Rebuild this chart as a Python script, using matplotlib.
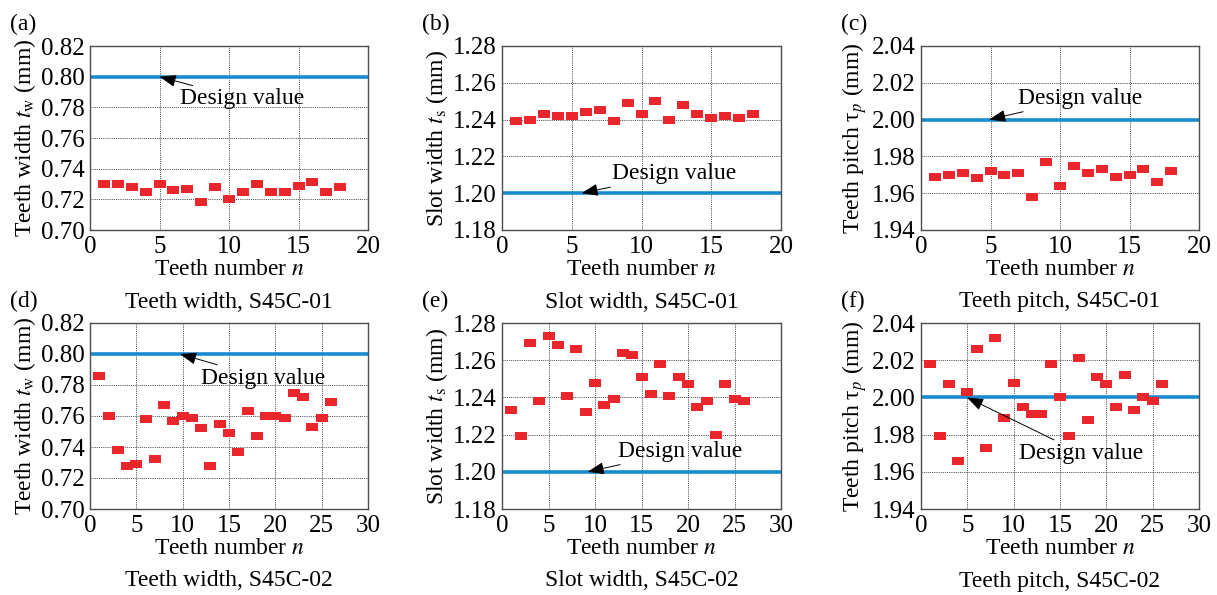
import numpy as np
import matplotlib
matplotlib.use("Agg")
import matplotlib.pyplot as plt
from matplotlib.path import Path

plt.rcParams['font.family'] = ['Liberation Serif', 'DejaVu Serif']
plt.rcParams['mathtext.fontset'] = 'stix'

# Measured data, specimen S45C-01 (18 teeth)
n_01 = np.arange(1, 19)
tw_01 = [0.730, 0.730, 0.728, 0.725, 0.730, 0.726, 0.727, 0.718, 0.728,
         0.720, 0.725, 0.730, 0.725, 0.725, 0.729, 0.731, 0.725, 0.728]
ts_01 = [1.239, 1.240, 1.243, 1.242, 1.242, 1.244, 1.245, 1.239, 1.249,
         1.243, 1.250, 1.240, 1.248, 1.243, 1.241, 1.242, 1.241, 1.243]
tp_01 = [1.969, 1.970, 1.971, 1.968, 1.972, 1.970, 1.971, 1.958, 1.977,
         1.964, 1.975, 1.971, 1.973, 1.969, 1.970, 1.973, 1.966, 1.972]

# Measured data, specimen S45C-02 (26 teeth)
n_02 = np.arange(1, 27)
tw_02 = [0.786, 0.760, 0.738, 0.728, 0.729, 0.758, 0.732, 0.767, 0.757,
         0.760, 0.759, 0.752, 0.728, 0.755, 0.749, 0.737, 0.763, 0.747,
         0.760, 0.760, 0.759, 0.775, 0.772, 0.753, 0.759, 0.769]
ts_02 = [1.233, 1.219, 1.269, 1.238, 1.273, 1.268, 1.241, 1.266, 1.232,
         1.248, 1.236, 1.239, 1.264, 1.263, 1.251, 1.242, 1.258, 1.241,
         1.251, 1.247, 1.235, 1.238, 1.220, 1.247, 1.239, 1.238]
tp_02 = [2.018, 1.979, 2.007, 1.966, 2.003, 2.026, 1.973, 2.032, 1.989,
         2.008, 1.995, 1.991, 1.991, 2.018, 2.000, 1.979, 2.021, 1.988,
         2.011, 2.007, 1.995, 2.012, 1.993, 2.000, 1.998, 2.007]

design_tw = 0.80
design_ts = 1.20
design_tp = 2.00

ylab_tw = r'Teeth width $t_{\rm w}$ (mm)'
ylab_ts = r'Slot width $t_{\rm s}$ (mm)'
ylab_tp = r'Teeth pitch τ$_{p}$ (mm)'

W, H = 1217, 595
fig = plt.figure(figsize=(W / 100, H / 100), dpi=100)

# flat rectangle marker
rect = Path([(-1, -0.68), (1, -0.68), (1, 0.68), (-1, 0.68), (-1, -0.68)],
            [Path.MOVETO, Path.LINETO, Path.LINETO, Path.LINETO, Path.CLOSEPOLY])

RED = '#e8262c'
BLUE = '#1a8ad0'
FS_TICK = 18
FS = 17


def px_axes(x0, y0, x1, y1):
    return fig.add_axes([x0 / W, 1 - y1 / H, (x1 - x0) / W, (y1 - y0) / H])


def panel(ax, n, vals, design, ylim, yticks, xmax, ylabel, tag, subtitle, head, tail):
    ax.plot(n, vals, linestyle='none', marker=rect, markersize=8,
            color=RED, markeredgewidth=0, zorder=3)
    ax.axhline(design, color=BLUE, lw=2.6, zorder=2)
    ax.set_xlim(0, xmax)
    ax.set_ylim(*ylim)
    ax.set_xticks(np.arange(0, xmax + 1, 5))
    ax.set_yticks(yticks)
    ax.set_yticklabels([f'{v:.2f}' for v in yticks])
    ax.grid(True, color='0.25', lw=0.7, ls=(0, (1, 1.2)))
    ax.set_axisbelow(True)
    ax.tick_params(labelsize=FS_TICK, length=0, pad=4)
    for s in ax.spines.values():
        s.set_color('0.3')
        s.set_linewidth(1.0)
    ax.set_xlabel(r'Teeth number $n$', fontsize=FS, labelpad=1)
    ax.set_ylabel(ylabel, fontsize=FS, labelpad=2)
    ax.annotate('Design value', xy=head, xytext=tail, fontsize=FS,
                va='center', ha='left',
                arrowprops=dict(arrowstyle='-|>,head_length=0.6,head_width=0.22',
                                color='black', lw=0.7, shrinkA=0, shrinkB=0))
    bb = ax.get_position()
    fig.text(bb.x0 - 80 / W, bb.y1 + 32 / H, tag, fontsize=FS, ha='left', va='top')
    fig.text((bb.x0 + bb.x1) / 2, bb.y0 - 72 / H, subtitle, fontsize=FS,
             ha='center', va='center')


ax_a = px_axes(90, 46, 368, 230)
ax_b = px_axes(502, 46, 781, 230)
ax_c = px_axes(921, 46, 1199, 230)
ax_d = px_axes(90, 323, 368, 509)
ax_e = px_axes(502, 323, 781, 509)
ax_f = px_axes(921, 323, 1199, 509)

tw_ticks = np.arange(0.70, 0.821, 0.02)
ts_ticks = np.arange(1.18, 1.281, 0.02)
tp_ticks = np.arange(1.94, 2.041, 0.02)

panel(ax_a, n_01, tw_01, design_tw, (0.70, 0.82), tw_ticks, 20, ylab_tw,
      '(a)', 'Teeth width, S45C-01', (5.0, 0.800), (6.45, 0.7855))
panel(ax_b, n_01, ts_01, design_ts, (1.18, 1.28), ts_ticks, 20, ylab_ts,
      '(b)', 'Slot width, S45C-01', (5.7, 1.200), (7.85, 1.2105))
panel(ax_c, n_01, tp_01, design_tp, (1.94, 2.04), tp_ticks, 20, ylab_tp,
      '(c)', 'Teeth pitch, S45C-01', (4.9, 2.000), (7.0, 2.0115))
panel(ax_d, n_02, tw_02, design_tw, (0.70, 0.82), tw_ticks, 30, ylab_tw,
      '(d)', 'Teeth width, S45C-02', (9.7, 0.800), (12.0, 0.7845))
panel(ax_e, n_02, ts_02, design_ts, (1.18, 1.28), ts_ticks, 30, ylab_ts,
      '(e)', 'Slot width, S45C-02', (9.2, 1.200), (12.5, 1.211))
panel(ax_f, n_02, tp_02, design_tp, (1.94, 2.04), tp_ticks, 30, ylab_tp,
      '(f)', 'Teeth pitch, S45C-02', (4.95, 2.000), (10.6, 1.970))

fig.savefig('out.png', dpi=100)
